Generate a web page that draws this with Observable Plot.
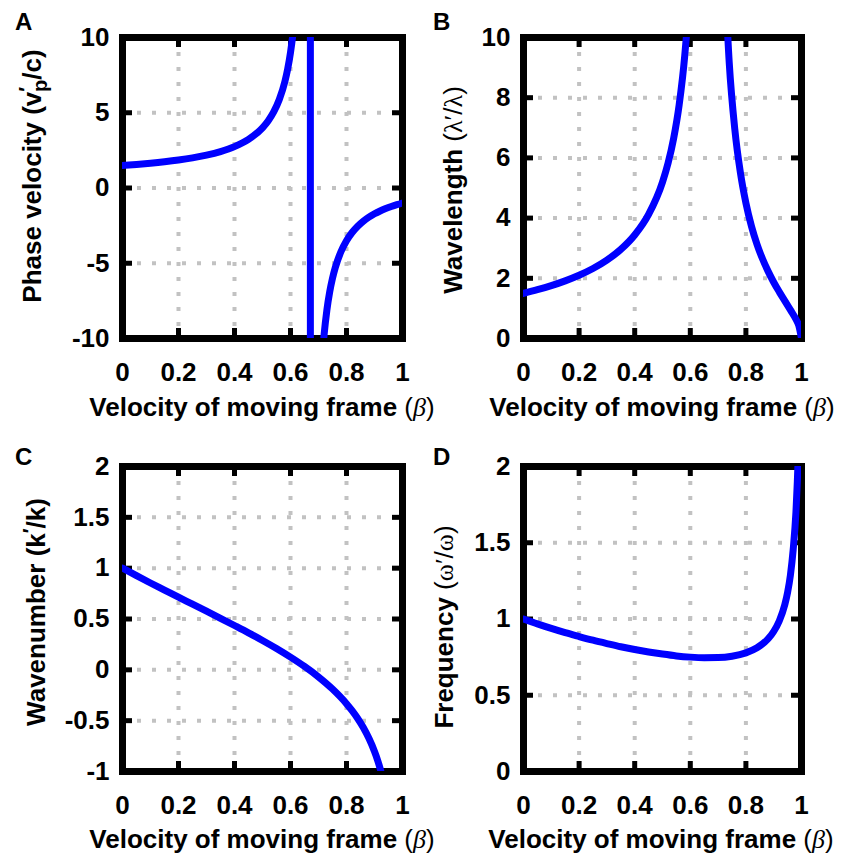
<!DOCTYPE html>
<html>
<head>
<meta charset="utf-8">
<script src="https://cdn.jsdelivr.net/npm/d3@7"></script>
<script src="https://cdn.jsdelivr.net/npm/@observablehq/plot@0.6"></script>
<style>
html, body { margin: 0; padding: 0; background: #fff; }
#fig { position: relative; width: 842px; height: 855px; overflow: hidden; background: #fff; }
#fig > div { position: absolute; }
</style>
</head>
<body>
<div id="fig"></div>
<script>
// ---------- shared axis values ----------
const xTicks = [0, 0.2, 0.4, 0.6, 0.8, 1];
const xGrid = [0.2, 0.4, 0.6, 0.8];

// ---------- Panel A: phase velocity v'p/c ----------
const aTicksY = [-10, -5, 0, 5, 10];
const aGridY = [-5, 0, 5];
const aBetaLeft  = [0, 0.05, 0.1, 0.15, 0.2, 0.25, 0.3, 0.35, 0.4, 0.45, 0.5, 0.52, 0.54, 0.56, 0.58, 0.59, 0.6, 0.61, 0.62, 0.63, 0.64];
const aPhaseLeft = [1.5, 1.568, 1.647, 1.742, 1.857, 2.0, 2.182, 2.421, 2.75, 3.231, 4.0, 4.455, 5.053, 5.875, 7.077, 7.913, 9.0, 10.47, 12.57, 15.8, 21.5];
const aBetaJump  = [0.671, 0.671];
const aPhaseJump = [12, -12];
const aBetaRight  = [0.70, 0.71, 0.715, 0.72, 0.73, 0.74, 0.75, 0.76, 0.78, 0.8, 0.82, 0.84, 0.86, 0.88, 0.9, 0.92, 0.94, 0.96, 0.98, 1.0];
const aPhaseRight = [-16, -12.15, -10.83, -9.75, -8.105, -6.909, -6.0, -5.286, -4.235, -3.5, -2.957, -2.538, -2.207, -1.938, -1.714, -1.526, -1.366, -1.227, -1.106, -1.0];

// ---------- Panel B: wavelength lambda'/lambda ----------
const bTicksY = [0, 2, 4, 6, 8, 10];
const bGridY = [2, 4, 6, 8];
const bBetaLeft = [0, 0.05, 0.1, 0.15, 0.2, 0.25, 0.3, 0.35, 0.4, 0.45, 0.5, 0.52, 0.54, 0.56, 0.58, 0.6, 0.62];
const bWaveLeft = [1.5, 1.62, 1.756, 1.914, 2.10, 2.324, 2.602, 2.958, 3.437, 4.122, 5.196, 5.824, 6.645, 7.767, 9.399, 12.0, 16.8];
const bBetaRight = [0.72, 0.74, 0.76, 0.78, 0.8, 0.82, 0.84, 0.86, 0.88, 0.9, 0.92, 0.94, 0.96, 0.98, 0.99, 1.0];
const bWaveRight = [13.0, 9.17, 6.96, 5.52, 4.5, 3.73, 3.13, 2.64, 2.23, 1.87, 1.55, 1.25, 0.95, 0.64, 0.44, 0.0];

// ---------- Panel C: wavenumber k'/k ----------
const cTicksY = [-1, -0.5, 0, 0.5, 1, 1.5, 2];
const cGridY = [-0.5, 0, 0.5, 1, 1.5];
const cBeta = [0, 0.05, 0.1, 0.15, 0.2, 0.25, 0.3, 0.35, 0.4, 0.45, 0.5, 0.55, 0.6, 0.65, 0.7, 0.75, 0.8, 0.82, 0.84, 0.86, 0.88, 0.9, 0.91, 0.92, 0.93];
const cWaveNum = [1, 0.926, 0.854, 0.784, 0.714, 0.646, 0.577, 0.507, 0.436, 0.364, 0.289, 0.210, 0.125, 0.033, -0.070, -0.189, -0.333, -0.402, -0.479, -0.568, -0.674, -0.803, -0.880, -0.970, -1.075];

// ---------- Panel D: frequency omega'/omega ----------
const dTicksY = [0, 0.5, 1, 1.5, 2];
const dGridY = [0.5, 1, 1.5];
const dBeta = [0, 0.05, 0.1, 0.15, 0.2, 0.25, 0.3, 0.35, 0.4, 0.45, 0.5, 0.55, 0.6, 0.65, 0.7, 0.75, 0.8, 0.84, 0.88, 0.9, 0.92, 0.94, 0.95, 0.96, 0.97, 0.98, 0.985, 0.99];
const dFreq = [1, 0.968, 0.938, 0.910, 0.885, 0.861, 0.839, 0.818, 0.800, 0.784, 0.770, 0.758, 0.750, 0.746, 0.747, 0.756, 0.778, 0.811, 0.870, 0.918, 0.987, 1.094, 1.174, 1.286, 1.453, 1.70, 1.90, 2.15];

const FONT = "'Liberation Sans', Arial, Helvetica, sans-serif";
const SERIF = "'Liberation Serif', 'DejaVu Serif', serif";
const BLUE = "#0000ff";
const GRID = {stroke: "#c2c2c2", strokeOpacity: 1, strokeWidth: 4, strokeDasharray: "4,11"};
const TICK_LEN = 10;

function pts(xs, ys) { return xs.map((x, i) => ({x, y: ys[i]})); }

function addText(svg, {x, y, rotate = 0, anchor = "middle", parts}) {
  const t = svg.append("text")
    .attr("transform", `translate(${x},${y}) rotate(${rotate})`)
    .attr("text-anchor", anchor)
    .attr("fill", "black")
    .style("font-family", FONT)
    .style("font-size", "26px")
    .style("font-weight", "bold");
  for (const p of parts) {
    const s = t.append("tspan").text(p.text);
    if (p.dx != null) s.attr("dx", p.dx);
    if (p.dy != null) s.attr("dy", p.dy);
    if (p.size) s.style("font-size", p.size + "px");
    if (p.weight) s.style("font-weight", p.weight);
    if (p.italic) s.style("font-style", "italic");
    if (p.family) s.style("font-family", p.family);
  }
  return t;
}

const xLabelParts = [
  {text: "Velocity of moving frame "},
  {text: "(", weight: "normal"},
  {text: "β", weight: "normal", italic: true, family: SERIF},
  {text: ")", weight: "normal"}
];

function panel(cfg) {
  const plotW = 421 - cfg.ml - cfg.mr;
  const plotH = cfg.height - cfg.mt - cfg.mb;
  const tick = {stroke: "black", strokeWidth: 5};
  const marks = [
    Plot.gridX(xGrid, GRID),
    Plot.gridY(cfg.yGrid, GRID),
    Plot.frame({stroke: "black", strokeWidth: 7}),
    // inward tick marks on all four sides
    Plot.tickX(xTicks, {x: d => d, insetTop: plotH - TICK_LEN, ...tick}),
    Plot.tickX(xTicks, {x: d => d, insetBottom: plotH - TICK_LEN, ...tick}),
    Plot.tickY(cfg.yTicks, {y: d => d, insetRight: plotW - TICK_LEN, ...tick}),
    Plot.tickY(cfg.yTicks, {y: d => d, insetLeft: plotW - TICK_LEN, ...tick}),
    Plot.axisX(xTicks, {anchor: "bottom", tickSize: 0, tickPadding: 24, tickFormat: d => String(d), label: null}),
    Plot.axisY(cfg.yTicks, {anchor: "left", tickSize: 0, tickPadding: 13, tickFormat: d => String(d), label: null}),
    ...cfg.series.map(s => Plot.line(pts(s[0], s[1]), {x: "x", y: "y", stroke: BLUE, strokeWidth: 7, curve: "monotone-x", clip: true}))
  ];
  const svgNode = Plot.plot({
    width: 421, height: cfg.height,
    marginLeft: cfg.ml, marginRight: cfg.mr, marginTop: cfg.mt, marginBottom: cfg.mb,
    x: {domain: [0, 1], axis: null},
    y: {domain: cfg.yDomain, axis: null},
    style: {fontFamily: FONT, fontSize: "26px", fontWeight: "bold", color: "black", background: "transparent", overflow: "visible"},
    marks
  });
  const svg = d3.select(svgNode);
  addText(svg, {x: cfg.ylx, y: cfg.yly, rotate: -90, parts: cfg.yParts});
  addText(svg, {x: cfg.xlx, y: cfg.xly, parts: xLabelParts});
  addText(svg, {x: cfg.lx, y: cfg.ly, anchor: "start", parts: [{text: cfg.letter, size: 24}]});
  const holder = document.createElement("div");
  holder.style.left = cfg.left + "px";
  holder.style.top = cfg.top + "px";
  holder.appendChild(svgNode);
  document.getElementById("fig").appendChild(holder);
}

panel({
  left: 0, top: 0, height: 428, ml: 122, mr: 19, mt: 37, mb: 90,
  yDomain: [-10, 10], yTicks: aTicksY, yGrid: aGridY,
  series: [[aBetaLeft, aPhaseLeft], [aBetaJump, aPhaseJump], [aBetaRight, aPhaseRight]],
  ylx: 41, yly: 176,
  yParts: [
    {text: "Phase velocity (v"},
    {text: "′", size: 20, dy: -8},
    {text: "p", size: 20, dx: -5, dy: 14},
    {text: "/c)", dy: -6}
  ],
  xlx: 262, xly: 416, letter: "A", lx: 15, ly: 30
});

panel({
  left: 421, top: 0, height: 428, ml: 102, mr: 41, mt: 37, mb: 90,
  yDomain: [0, 10], yTicks: bTicksY, yGrid: bGridY,
  series: [[bBetaLeft, bWaveLeft], [bBetaRight, bWaveRight]],
  ylx: 41, yly: 190,
  yParts: [
    {text: "Wavelength "},
    {text: "(", weight: "normal"},
    {text: "λ′", weight: "normal", family: SERIF},
    {text: "/", weight: "normal"},
    {text: "λ", weight: "normal", family: SERIF},
    {text: ")", weight: "normal"}
  ],
  xlx: 241, xly: 416, letter: "B", lx: 12, ly: 30
});

panel({
  left: 0, top: 428, height: 427, ml: 122, mr: 19, mt: 38, mb: 84,
  yDomain: [-1, 2], yTicks: cTicksY, yGrid: cGridY,
  series: [[cBeta, cWaveNum]],
  ylx: 45, yly: 184,
  yParts: [
    {text: "Wavenumber (k"},
    {text: "′", size: 20, dy: -8},
    {text: "/k)", dy: 8}
  ],
  xlx: 262, xly: 420, letter: "C", lx: 15, ly: 37
});

panel({
  left: 421, top: 428, height: 427, ml: 102, mr: 41, mt: 38, mb: 84,
  yDomain: [0, 2], yTicks: dTicksY, yGrid: dGridY,
  series: [[dBeta, dFreq]],
  ylx: 32, yly: 199,
  yParts: [
    {text: "Frequency "},
    {text: "(", weight: "normal"},
    {text: "ω′", weight: "normal", family: SERIF},
    {text: "/", weight: "normal"},
    {text: "ω", weight: "normal", family: SERIF},
    {text: ")", weight: "normal"}
  ],
  xlx: 240, xly: 420, letter: "D", lx: 12, ly: 37
});
</script>
</body>
</html>
